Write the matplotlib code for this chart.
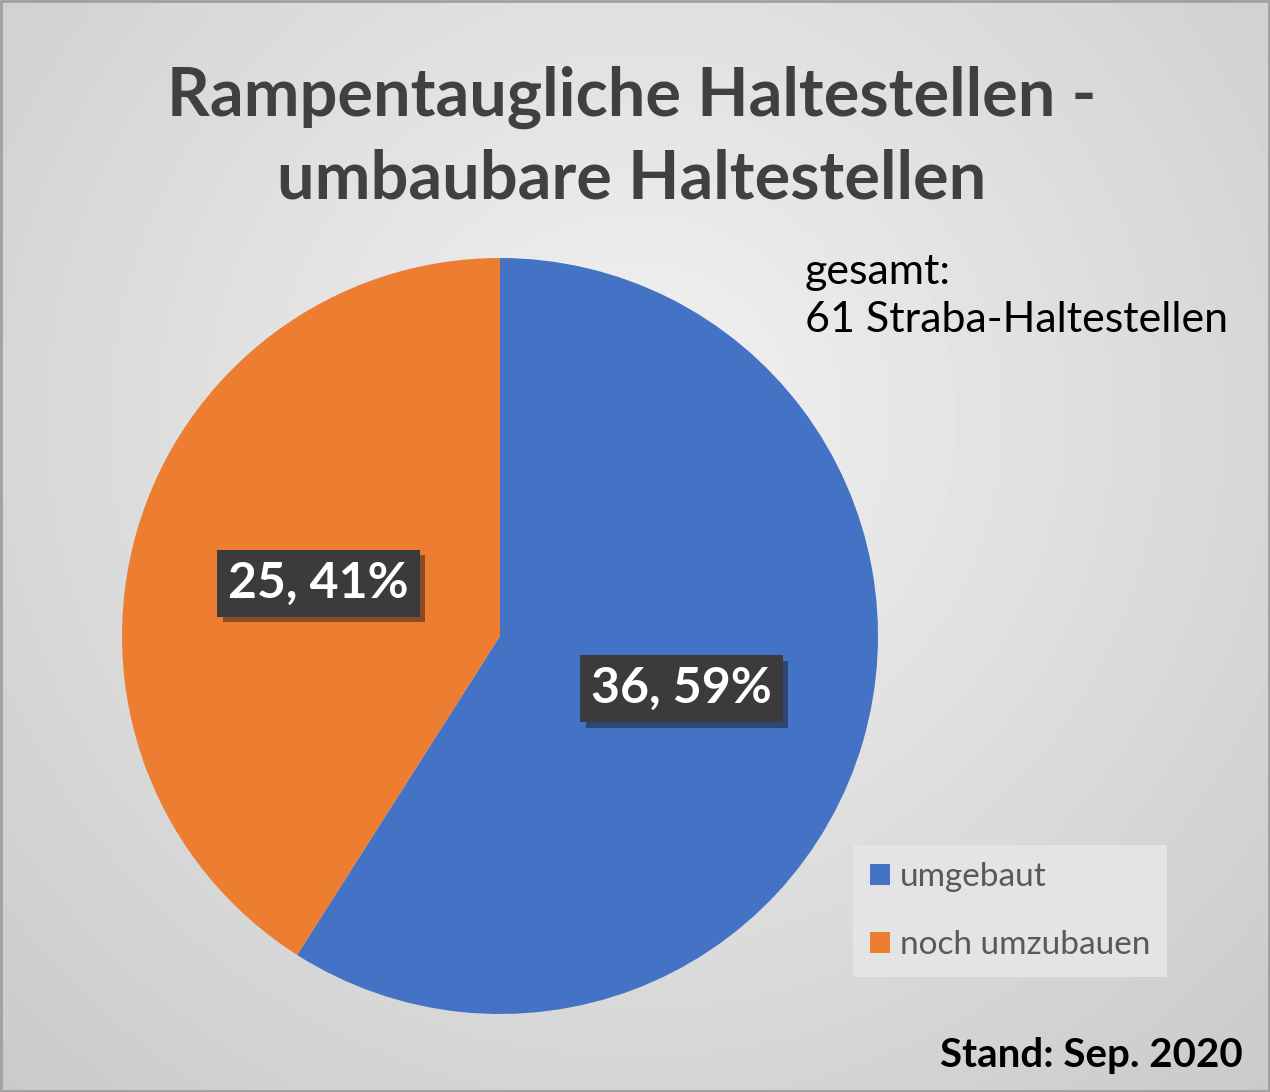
import numpy as np
import matplotlib
matplotlib.use("Agg")
import matplotlib.pyplot as plt
import matplotlib.patheffects as pe
from matplotlib.patches import Patch, Rectangle

# data
categories = ["umgebaut", "noch umzubauen"]
counts = [36, 25]
colors = ["#4472C4", "#ED7D31"]
title = "Rampentaugliche Haltestellen -\numbaubare Haltestellen"
note = "gesamt:\n61 Straba-Haltestellen"
stand = "Stand: Sep. 2020"

plt.rcParams["font.family"] = ["Lato", "DejaVu Sans"]

W, H = 1270, 1092
fig = plt.figure(figsize=(W / 100, H / 100), dpi=100)

# radial gray background
bg = fig.add_axes([0, 0, 1, 1], zorder=-10)
yy, xx = np.mgrid[0:H, 0:W]
d = np.sqrt((xx - 635) ** 2 + (yy - 420) ** 2) / np.sqrt(635 ** 2 + 672 ** 2)
shade = 0.95 - 0.16 * d
bg.imshow(shade, cmap="gray", vmin=0, vmax=1, extent=[0, 1, 0, 1], aspect="auto")
bg.axis("off")
fig.patches.append(Rectangle((0.001, 0.001), 0.998, 0.998, transform=fig.transFigure,
                             fill=False, edgecolor="#a0a0a0", linewidth=2))

# pie
ax = fig.add_axes([122 / W, (H - 1014) / H, 756 / W, 756 / H])
total = sum(counts)


def lab(pct):
    n = int(round(pct * total / 100))
    return f"{n}, {pct:.0f}%"


wedges, texts, autotexts = ax.pie(counts, colors=colors, startangle=90, counterclock=False,
                                  autopct=lab, pctdistance=0.5,
                                  textprops=dict(color="white", fontsize=36, fontweight="bold"))
for t in autotexts:
    t.set_bbox(dict(boxstyle="square,pad=0.22", facecolor="#3b3b3b", edgecolor="none"))
    t.get_bbox_patch().set_path_effects([pe.SimplePatchShadow(offset=(4, -4), alpha=0.45),
                                         pe.Normal()])
ax.set_xlim(-1, 1)
ax.set_ylim(-1, 1)

fig.text(0.497, 1 - 138 / H, title, ha="center", va="center", fontsize=48,
         fontweight="bold", color="#404040", linespacing=1.38)
fig.text(805 / W, 1 - 296 / H, note, ha="left", va="center", fontsize=31,
         color="black", linespacing=1.35)
fig.text(1243 / W, 1 - 1056 / H, stand, ha="right", va="center", fontsize=29,
         fontweight="bold", color="black")

handles = [Patch(facecolor=c) for c in colors]
leg = fig.legend(handles, categories, loc="center", bbox_to_anchor=(1010 / W, 1 - 911 / H),
                 fontsize=24, frameon=True, fancybox=False, handlelength=0.6,
                 handleheight=0.6, handletextpad=0.3, labelspacing=1.15,
                 borderpad=0.5, labelcolor="#595959")
leg.get_frame().set_facecolor("#e4e4e4")
leg.get_frame().set_edgecolor("none")
leg.get_frame().set_alpha(1)

fig.savefig("out.png", dpi=100)
